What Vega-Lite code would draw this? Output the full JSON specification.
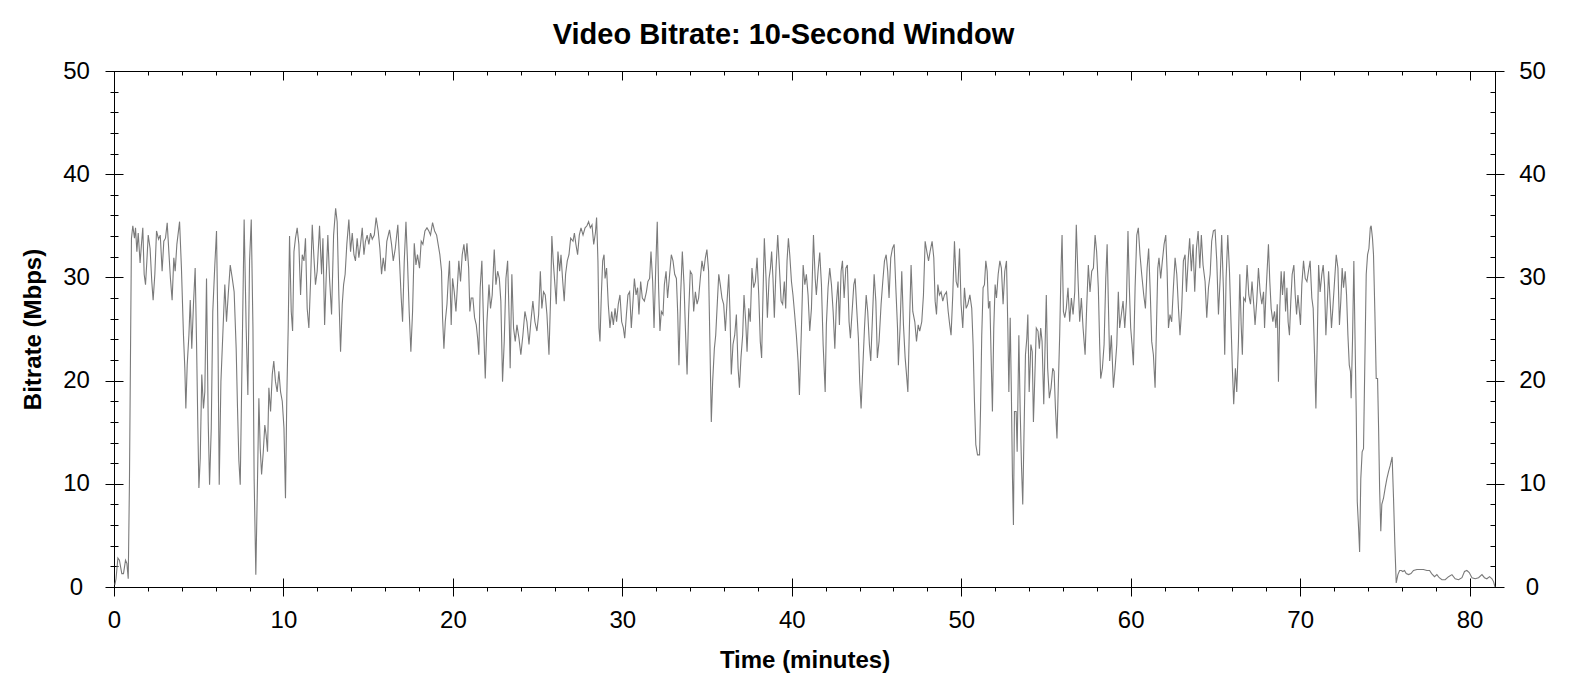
{
  "$schema": "https://vega.github.io/schema/vega-lite/v6.json",
  "autosize": "none",
  "width": 1381,
  "height": 516,
  "padding": {"left": 114, "top": 71, "right": 75, "bottom": 108},
  "background": "white",
  "title": {
    "text": "Video Bitrate: 10-Second Window",
    "font": "Liberation Sans",
    "fontSize": 29,
    "fontWeight": "bold",
    "color": "black",
    "anchor": "middle",
    "frame": "bounds",
    "offset": 9
  },
  "config": {
    "view": {"stroke": "black", "strokeWidth": 1},
    "axis": {
      "grid": false,
      "domain": false,
      "tickColor": "black",
      "tickWidth": 1,
      "labelFont": "Liberation Sans",
      "labelFontSize": 24,
      "labelColor": "black",
      "labelFlush": false,
      "labelOverlap": false,
      "titleFont": "Liberation Sans",
      "titleFontSize": 24,
      "titleFontWeight": "bold",
      "titleColor": "black"
    }
  },
  "data": {
    "values": [
      {"time": 0.05, "mbps": 0.2}, {"time": 0.12, "mbps": 0.8}, {"time": 0.23, "mbps": 2.8}, {"time": 0.32, "mbps": 2.6},
      {"time": 0.46, "mbps": 1.3}, {"time": 0.56, "mbps": 1.3}, {"time": 0.68, "mbps": 2.6}, {"time": 0.76, "mbps": 2.3},
      {"time": 0.84, "mbps": 0.8}, {"time": 0.91, "mbps": 9.9}, {"time": 0.97, "mbps": 21.9}, {"time": 1.03, "mbps": 33.8},
      {"time": 1.11, "mbps": 35.0}, {"time": 1.21, "mbps": 33.8}, {"time": 1.27, "mbps": 34.8}, {"time": 1.35, "mbps": 32.5},
      {"time": 1.43, "mbps": 34.3}, {"time": 1.54, "mbps": 31.4}, {"time": 1.62, "mbps": 33.2}, {"time": 1.70, "mbps": 34.8},
      {"time": 1.78, "mbps": 30.3}, {"time": 1.86, "mbps": 29.3}, {"time": 1.94, "mbps": 31.6}, {"time": 2.02, "mbps": 34.1},
      {"time": 2.13, "mbps": 32.8}, {"time": 2.23, "mbps": 29.6}, {"time": 2.31, "mbps": 27.8}, {"time": 2.41, "mbps": 30.3},
      {"time": 2.51, "mbps": 34.5}, {"time": 2.63, "mbps": 33.7}, {"time": 2.73, "mbps": 34.1}, {"time": 2.84, "mbps": 30.6},
      {"time": 2.94, "mbps": 33.5}, {"time": 3.04, "mbps": 33.8}, {"time": 3.14, "mbps": 35.3}, {"time": 3.24, "mbps": 32.4},
      {"time": 3.33, "mbps": 29.9}, {"time": 3.43, "mbps": 27.8}, {"time": 3.53, "mbps": 31.9}, {"time": 3.61, "mbps": 30.6},
      {"time": 3.71, "mbps": 33.2}, {"time": 3.87, "mbps": 35.4}, {"time": 3.98, "mbps": 30.9}, {"time": 4.10, "mbps": 24.4},
      {"time": 4.18, "mbps": 21.2}, {"time": 4.24, "mbps": 17.3}, {"time": 4.32, "mbps": 21.5}, {"time": 4.42, "mbps": 24.4},
      {"time": 4.50, "mbps": 27.8}, {"time": 4.59, "mbps": 23.1}, {"time": 4.69, "mbps": 27.4}, {"time": 4.79, "mbps": 30.9},
      {"time": 4.87, "mbps": 23.8}, {"time": 4.95, "mbps": 15.4}, {"time": 5.01, "mbps": 9.6}, {"time": 5.09, "mbps": 12.5},
      {"time": 5.18, "mbps": 20.6}, {"time": 5.28, "mbps": 17.3}, {"time": 5.36, "mbps": 18.9}, {"time": 5.46, "mbps": 29.9},
      {"time": 5.56, "mbps": 16.0}, {"time": 5.64, "mbps": 9.9}, {"time": 5.74, "mbps": 15.4}, {"time": 5.83, "mbps": 26.7},
      {"time": 5.95, "mbps": 31.2}, {"time": 6.05, "mbps": 34.5}, {"time": 6.13, "mbps": 25.1}, {"time": 6.21, "mbps": 9.9},
      {"time": 6.31, "mbps": 19.9}, {"time": 6.42, "mbps": 24.4}, {"time": 6.54, "mbps": 29.3}, {"time": 6.64, "mbps": 25.7},
      {"time": 6.74, "mbps": 28.3}, {"time": 6.86, "mbps": 31.2}, {"time": 6.98, "mbps": 29.9}, {"time": 7.09, "mbps": 28.6},
      {"time": 7.21, "mbps": 23.1}, {"time": 7.29, "mbps": 17.3}, {"time": 7.37, "mbps": 12.2}, {"time": 7.45, "mbps": 9.9},
      {"time": 7.55, "mbps": 21.2}, {"time": 7.68, "mbps": 35.6}, {"time": 7.80, "mbps": 25.1}, {"time": 7.90, "mbps": 18.6},
      {"time": 8.00, "mbps": 31.6}, {"time": 8.10, "mbps": 35.6}, {"time": 8.20, "mbps": 25.1}, {"time": 8.27, "mbps": 10.5},
      {"time": 8.37, "mbps": 1.2}, {"time": 8.47, "mbps": 10.5}, {"time": 8.55, "mbps": 18.3}, {"time": 8.63, "mbps": 13.4},
      {"time": 8.71, "mbps": 10.9}, {"time": 8.81, "mbps": 13.1}, {"time": 8.90, "mbps": 15.7}, {"time": 8.98, "mbps": 14.7},
      {"time": 9.06, "mbps": 13.1}, {"time": 9.14, "mbps": 19.3}, {"time": 9.24, "mbps": 17.0}, {"time": 9.34, "mbps": 20.6},
      {"time": 9.43, "mbps": 21.9}, {"time": 9.53, "mbps": 19.9}, {"time": 9.63, "mbps": 18.9}, {"time": 9.73, "mbps": 20.9},
      {"time": 9.83, "mbps": 18.9}, {"time": 9.93, "mbps": 18.0}, {"time": 10.03, "mbps": 15.4}, {"time": 10.12, "mbps": 8.6},
      {"time": 10.20, "mbps": 18.6}, {"time": 10.28, "mbps": 25.1}, {"time": 10.36, "mbps": 34.0}, {"time": 10.46, "mbps": 26.7},
      {"time": 10.54, "mbps": 24.8}, {"time": 10.62, "mbps": 32.5}, {"time": 10.71, "mbps": 33.8}, {"time": 10.81, "mbps": 34.8},
      {"time": 10.91, "mbps": 33.2}, {"time": 11.01, "mbps": 28.3}, {"time": 11.11, "mbps": 32.2}, {"time": 11.21, "mbps": 31.6},
      {"time": 11.30, "mbps": 33.8}, {"time": 11.40, "mbps": 27.0}, {"time": 11.50, "mbps": 25.1}, {"time": 11.60, "mbps": 29.6},
      {"time": 11.70, "mbps": 35.1}, {"time": 11.80, "mbps": 31.9}, {"time": 11.89, "mbps": 29.3}, {"time": 11.99, "mbps": 30.6},
      {"time": 12.13, "mbps": 35.0}, {"time": 12.25, "mbps": 30.3}, {"time": 12.33, "mbps": 33.8}, {"time": 12.43, "mbps": 25.4},
      {"time": 12.52, "mbps": 29.9}, {"time": 12.62, "mbps": 34.1}, {"time": 12.72, "mbps": 29.9}, {"time": 12.84, "mbps": 26.4},
      {"time": 12.96, "mbps": 34.1}, {"time": 13.08, "mbps": 36.7}, {"time": 13.17, "mbps": 35.4}, {"time": 13.27, "mbps": 28.3},
      {"time": 13.37, "mbps": 22.8}, {"time": 13.47, "mbps": 27.4}, {"time": 13.55, "mbps": 29.3}, {"time": 13.64, "mbps": 30.3},
      {"time": 13.74, "mbps": 33.2}, {"time": 13.86, "mbps": 35.6}, {"time": 13.96, "mbps": 32.5}, {"time": 14.06, "mbps": 34.3},
      {"time": 14.16, "mbps": 32.2}, {"time": 14.25, "mbps": 31.6}, {"time": 14.35, "mbps": 33.8}, {"time": 14.45, "mbps": 31.9},
      {"time": 14.55, "mbps": 33.2}, {"time": 14.65, "mbps": 34.8}, {"time": 14.75, "mbps": 32.2}, {"time": 14.84, "mbps": 33.5},
      {"time": 14.94, "mbps": 34.1}, {"time": 15.04, "mbps": 33.2}, {"time": 15.14, "mbps": 34.3}, {"time": 15.24, "mbps": 33.7},
      {"time": 15.36, "mbps": 34.1}, {"time": 15.47, "mbps": 35.8}, {"time": 15.59, "mbps": 34.5}, {"time": 15.69, "mbps": 32.8},
      {"time": 15.79, "mbps": 30.3}, {"time": 15.89, "mbps": 31.9}, {"time": 15.99, "mbps": 30.6}, {"time": 16.10, "mbps": 33.5},
      {"time": 16.26, "mbps": 34.6}, {"time": 16.38, "mbps": 33.2}, {"time": 16.48, "mbps": 31.6}, {"time": 16.60, "mbps": 32.8},
      {"time": 16.75, "mbps": 35.1}, {"time": 16.85, "mbps": 31.6}, {"time": 16.95, "mbps": 28.0}, {"time": 17.03, "mbps": 25.7},
      {"time": 17.13, "mbps": 31.6}, {"time": 17.23, "mbps": 35.4}, {"time": 17.32, "mbps": 31.6}, {"time": 17.42, "mbps": 26.7},
      {"time": 17.52, "mbps": 22.8}, {"time": 17.62, "mbps": 26.7}, {"time": 17.72, "mbps": 33.3}, {"time": 17.82, "mbps": 31.2},
      {"time": 17.91, "mbps": 32.2}, {"time": 18.03, "mbps": 30.9}, {"time": 18.13, "mbps": 33.5}, {"time": 18.23, "mbps": 33.2},
      {"time": 18.35, "mbps": 34.5}, {"time": 18.47, "mbps": 34.8}, {"time": 18.58, "mbps": 34.5}, {"time": 18.68, "mbps": 34.1},
      {"time": 18.80, "mbps": 35.3}, {"time": 18.92, "mbps": 34.5}, {"time": 19.04, "mbps": 34.1}, {"time": 19.13, "mbps": 33.2},
      {"time": 19.23, "mbps": 32.2}, {"time": 19.33, "mbps": 30.6}, {"time": 19.39, "mbps": 26.1}, {"time": 19.47, "mbps": 23.1},
      {"time": 19.55, "mbps": 25.7}, {"time": 19.65, "mbps": 27.4}, {"time": 19.72, "mbps": 29.6}, {"time": 19.80, "mbps": 31.6},
      {"time": 19.90, "mbps": 25.4}, {"time": 19.98, "mbps": 29.9}, {"time": 20.08, "mbps": 28.6}, {"time": 20.18, "mbps": 26.7},
      {"time": 20.26, "mbps": 29.0}, {"time": 20.35, "mbps": 31.6}, {"time": 20.45, "mbps": 29.6}, {"time": 20.55, "mbps": 32.2},
      {"time": 20.65, "mbps": 33.2}, {"time": 20.75, "mbps": 31.6}, {"time": 20.83, "mbps": 33.3}, {"time": 20.93, "mbps": 30.9},
      {"time": 21.00, "mbps": 26.7}, {"time": 21.08, "mbps": 28.0}, {"time": 21.18, "mbps": 28.0}, {"time": 21.28, "mbps": 26.1},
      {"time": 21.38, "mbps": 25.4}, {"time": 21.46, "mbps": 24.1}, {"time": 21.53, "mbps": 22.5}, {"time": 21.61, "mbps": 29.0},
      {"time": 21.71, "mbps": 31.6}, {"time": 21.81, "mbps": 25.4}, {"time": 21.91, "mbps": 20.2}, {"time": 22.01, "mbps": 25.7},
      {"time": 22.13, "mbps": 29.3}, {"time": 22.22, "mbps": 27.0}, {"time": 22.32, "mbps": 28.3}, {"time": 22.44, "mbps": 32.7},
      {"time": 22.54, "mbps": 29.3}, {"time": 22.64, "mbps": 30.6}, {"time": 22.74, "mbps": 29.9}, {"time": 22.83, "mbps": 27.7},
      {"time": 22.93, "mbps": 19.9}, {"time": 23.03, "mbps": 23.8}, {"time": 23.13, "mbps": 29.9}, {"time": 23.23, "mbps": 31.6},
      {"time": 23.33, "mbps": 25.4}, {"time": 23.38, "mbps": 21.2}, {"time": 23.48, "mbps": 30.3}, {"time": 23.58, "mbps": 25.1},
      {"time": 23.68, "mbps": 23.8}, {"time": 23.78, "mbps": 25.4}, {"time": 23.90, "mbps": 24.1}, {"time": 24.01, "mbps": 22.5},
      {"time": 24.13, "mbps": 24.4}, {"time": 24.25, "mbps": 26.7}, {"time": 24.37, "mbps": 25.7}, {"time": 24.49, "mbps": 23.5},
      {"time": 24.60, "mbps": 25.7}, {"time": 24.72, "mbps": 27.7}, {"time": 24.84, "mbps": 25.7}, {"time": 24.96, "mbps": 24.8},
      {"time": 25.06, "mbps": 26.4}, {"time": 25.16, "mbps": 30.6}, {"time": 25.25, "mbps": 27.0}, {"time": 25.35, "mbps": 28.6},
      {"time": 25.45, "mbps": 28.3}, {"time": 25.55, "mbps": 26.4}, {"time": 25.67, "mbps": 22.5}, {"time": 25.77, "mbps": 28.3},
      {"time": 25.84, "mbps": 34.0}, {"time": 25.92, "mbps": 31.6}, {"time": 26.02, "mbps": 29.3}, {"time": 26.10, "mbps": 27.4},
      {"time": 26.20, "mbps": 32.5}, {"time": 26.30, "mbps": 30.6}, {"time": 26.38, "mbps": 32.2}, {"time": 26.47, "mbps": 29.9},
      {"time": 26.57, "mbps": 27.7}, {"time": 26.65, "mbps": 30.3}, {"time": 26.75, "mbps": 31.6}, {"time": 26.85, "mbps": 32.2},
      {"time": 26.95, "mbps": 33.8}, {"time": 27.09, "mbps": 33.5}, {"time": 27.17, "mbps": 34.3}, {"time": 27.26, "mbps": 33.2},
      {"time": 27.36, "mbps": 32.2}, {"time": 27.46, "mbps": 34.1}, {"time": 27.56, "mbps": 34.8}, {"time": 27.68, "mbps": 34.1},
      {"time": 27.80, "mbps": 34.8}, {"time": 27.91, "mbps": 35.0}, {"time": 28.01, "mbps": 35.4}, {"time": 28.11, "mbps": 34.8},
      {"time": 28.21, "mbps": 35.1}, {"time": 28.31, "mbps": 33.2}, {"time": 28.41, "mbps": 34.3}, {"time": 28.48, "mbps": 35.8},
      {"time": 28.56, "mbps": 31.6}, {"time": 28.62, "mbps": 25.1}, {"time": 28.68, "mbps": 23.8}, {"time": 28.76, "mbps": 28.3},
      {"time": 28.84, "mbps": 31.6}, {"time": 28.92, "mbps": 32.2}, {"time": 28.98, "mbps": 29.9}, {"time": 29.07, "mbps": 30.9},
      {"time": 29.17, "mbps": 27.4}, {"time": 29.27, "mbps": 25.1}, {"time": 29.37, "mbps": 26.7}, {"time": 29.47, "mbps": 25.4},
      {"time": 29.57, "mbps": 27.0}, {"time": 29.66, "mbps": 25.7}, {"time": 29.76, "mbps": 27.4}, {"time": 29.86, "mbps": 28.3},
      {"time": 29.96, "mbps": 25.7}, {"time": 30.06, "mbps": 25.1}, {"time": 30.14, "mbps": 24.1}, {"time": 30.24, "mbps": 26.4},
      {"time": 30.33, "mbps": 28.3}, {"time": 30.43, "mbps": 28.6}, {"time": 30.53, "mbps": 25.1}, {"time": 30.63, "mbps": 27.7},
      {"time": 30.71, "mbps": 29.9}, {"time": 30.81, "mbps": 28.3}, {"time": 30.90, "mbps": 29.0}, {"time": 30.98, "mbps": 26.4},
      {"time": 31.08, "mbps": 29.6}, {"time": 31.18, "mbps": 28.0}, {"time": 31.30, "mbps": 27.7}, {"time": 31.42, "mbps": 28.6},
      {"time": 31.51, "mbps": 29.6}, {"time": 31.61, "mbps": 29.9}, {"time": 31.69, "mbps": 32.5}, {"time": 31.79, "mbps": 29.6},
      {"time": 31.87, "mbps": 25.1}, {"time": 31.97, "mbps": 30.9}, {"time": 32.06, "mbps": 35.4}, {"time": 32.14, "mbps": 29.0},
      {"time": 32.22, "mbps": 24.8}, {"time": 32.30, "mbps": 26.7}, {"time": 32.40, "mbps": 26.4}, {"time": 32.48, "mbps": 29.3},
      {"time": 32.58, "mbps": 30.6}, {"time": 32.67, "mbps": 28.0}, {"time": 32.77, "mbps": 29.9}, {"time": 32.89, "mbps": 32.2},
      {"time": 32.99, "mbps": 31.6}, {"time": 33.09, "mbps": 30.3}, {"time": 33.19, "mbps": 29.9}, {"time": 33.27, "mbps": 26.4},
      {"time": 33.34, "mbps": 21.5}, {"time": 33.44, "mbps": 28.3}, {"time": 33.54, "mbps": 32.5}, {"time": 33.64, "mbps": 29.3},
      {"time": 33.72, "mbps": 25.1}, {"time": 33.82, "mbps": 20.6}, {"time": 33.91, "mbps": 26.4}, {"time": 34.01, "mbps": 30.6},
      {"time": 34.11, "mbps": 30.3}, {"time": 34.21, "mbps": 26.7}, {"time": 34.31, "mbps": 28.6}, {"time": 34.41, "mbps": 27.4},
      {"time": 34.50, "mbps": 28.0}, {"time": 34.60, "mbps": 29.9}, {"time": 34.70, "mbps": 31.6}, {"time": 34.80, "mbps": 30.6},
      {"time": 34.90, "mbps": 31.9}, {"time": 34.99, "mbps": 32.7}, {"time": 35.09, "mbps": 30.6}, {"time": 35.17, "mbps": 23.5},
      {"time": 35.25, "mbps": 16.0}, {"time": 35.33, "mbps": 19.9}, {"time": 35.43, "mbps": 23.1}, {"time": 35.51, "mbps": 24.4},
      {"time": 35.61, "mbps": 27.7}, {"time": 35.69, "mbps": 30.3}, {"time": 35.78, "mbps": 29.3}, {"time": 35.88, "mbps": 28.0},
      {"time": 35.98, "mbps": 27.4}, {"time": 36.08, "mbps": 24.8}, {"time": 36.18, "mbps": 27.7}, {"time": 36.28, "mbps": 30.3},
      {"time": 36.35, "mbps": 26.7}, {"time": 36.43, "mbps": 20.6}, {"time": 36.53, "mbps": 23.5}, {"time": 36.63, "mbps": 24.4},
      {"time": 36.73, "mbps": 26.4}, {"time": 36.83, "mbps": 21.2}, {"time": 36.91, "mbps": 19.3}, {"time": 37.00, "mbps": 22.2},
      {"time": 37.10, "mbps": 24.4}, {"time": 37.18, "mbps": 28.3}, {"time": 37.28, "mbps": 25.7}, {"time": 37.36, "mbps": 22.8},
      {"time": 37.46, "mbps": 27.0}, {"time": 37.55, "mbps": 25.7}, {"time": 37.65, "mbps": 30.9}, {"time": 37.75, "mbps": 29.0},
      {"time": 37.85, "mbps": 29.6}, {"time": 37.95, "mbps": 31.9}, {"time": 38.05, "mbps": 28.3}, {"time": 38.14, "mbps": 23.8},
      {"time": 38.22, "mbps": 22.2}, {"time": 38.30, "mbps": 28.3}, {"time": 38.38, "mbps": 33.8}, {"time": 38.48, "mbps": 29.9},
      {"time": 38.56, "mbps": 26.1}, {"time": 38.66, "mbps": 29.9}, {"time": 38.74, "mbps": 30.9}, {"time": 38.81, "mbps": 32.5},
      {"time": 38.89, "mbps": 29.9}, {"time": 38.97, "mbps": 26.1}, {"time": 39.07, "mbps": 30.9}, {"time": 39.17, "mbps": 34.1},
      {"time": 39.27, "mbps": 30.9}, {"time": 39.37, "mbps": 27.7}, {"time": 39.46, "mbps": 27.4}, {"time": 39.56, "mbps": 29.6},
      {"time": 39.64, "mbps": 27.0}, {"time": 39.72, "mbps": 31.6}, {"time": 39.80, "mbps": 33.8}, {"time": 39.88, "mbps": 32.2},
      {"time": 39.98, "mbps": 29.6}, {"time": 40.07, "mbps": 28.3}, {"time": 40.17, "mbps": 26.4}, {"time": 40.27, "mbps": 24.4},
      {"time": 40.37, "mbps": 21.9}, {"time": 40.45, "mbps": 18.6}, {"time": 40.57, "mbps": 25.1}, {"time": 40.67, "mbps": 31.2},
      {"time": 40.77, "mbps": 29.3}, {"time": 40.86, "mbps": 30.3}, {"time": 40.96, "mbps": 28.3}, {"time": 41.06, "mbps": 24.8},
      {"time": 41.16, "mbps": 27.0}, {"time": 41.28, "mbps": 34.1}, {"time": 41.38, "mbps": 29.9}, {"time": 41.45, "mbps": 28.3},
      {"time": 41.55, "mbps": 30.6}, {"time": 41.65, "mbps": 32.4}, {"time": 41.75, "mbps": 29.3}, {"time": 41.85, "mbps": 23.5},
      {"time": 41.97, "mbps": 18.9}, {"time": 42.04, "mbps": 25.4}, {"time": 42.14, "mbps": 29.0}, {"time": 42.24, "mbps": 30.9},
      {"time": 42.34, "mbps": 29.3}, {"time": 42.44, "mbps": 26.7}, {"time": 42.54, "mbps": 23.1}, {"time": 42.63, "mbps": 27.4},
      {"time": 42.73, "mbps": 29.6}, {"time": 42.81, "mbps": 25.4}, {"time": 42.91, "mbps": 30.6}, {"time": 42.99, "mbps": 31.6},
      {"time": 43.09, "mbps": 28.0}, {"time": 43.19, "mbps": 30.9}, {"time": 43.28, "mbps": 31.2}, {"time": 43.38, "mbps": 25.7},
      {"time": 43.46, "mbps": 24.1}, {"time": 43.56, "mbps": 26.7}, {"time": 43.66, "mbps": 29.3}, {"time": 43.74, "mbps": 29.9},
      {"time": 43.83, "mbps": 27.0}, {"time": 43.93, "mbps": 24.1}, {"time": 44.01, "mbps": 19.9}, {"time": 44.09, "mbps": 17.3},
      {"time": 44.19, "mbps": 21.2}, {"time": 44.29, "mbps": 25.1}, {"time": 44.39, "mbps": 28.3}, {"time": 44.48, "mbps": 26.7},
      {"time": 44.58, "mbps": 23.5}, {"time": 44.66, "mbps": 21.9}, {"time": 44.76, "mbps": 26.1}, {"time": 44.86, "mbps": 30.3},
      {"time": 44.96, "mbps": 27.7}, {"time": 45.05, "mbps": 22.2}, {"time": 45.15, "mbps": 23.8}, {"time": 45.27, "mbps": 27.4},
      {"time": 45.37, "mbps": 29.6}, {"time": 45.47, "mbps": 31.6}, {"time": 45.57, "mbps": 32.2}, {"time": 45.66, "mbps": 30.6},
      {"time": 45.74, "mbps": 28.0}, {"time": 45.84, "mbps": 31.9}, {"time": 45.94, "mbps": 32.8}, {"time": 46.04, "mbps": 33.2},
      {"time": 46.14, "mbps": 29.0}, {"time": 46.24, "mbps": 25.1}, {"time": 46.29, "mbps": 21.5}, {"time": 46.39, "mbps": 25.1},
      {"time": 46.49, "mbps": 30.6}, {"time": 46.59, "mbps": 25.4}, {"time": 46.69, "mbps": 22.2}, {"time": 46.77, "mbps": 20.6},
      {"time": 46.85, "mbps": 18.9}, {"time": 46.94, "mbps": 25.1}, {"time": 47.04, "mbps": 31.2}, {"time": 47.14, "mbps": 26.7},
      {"time": 47.26, "mbps": 25.7}, {"time": 47.36, "mbps": 23.8}, {"time": 47.46, "mbps": 25.4}, {"time": 47.55, "mbps": 24.8},
      {"time": 47.67, "mbps": 25.7}, {"time": 47.77, "mbps": 28.3}, {"time": 47.87, "mbps": 33.5}, {"time": 47.97, "mbps": 32.5},
      {"time": 48.07, "mbps": 31.6}, {"time": 48.16, "mbps": 32.5}, {"time": 48.28, "mbps": 33.5}, {"time": 48.38, "mbps": 31.9},
      {"time": 48.46, "mbps": 27.7}, {"time": 48.54, "mbps": 26.4}, {"time": 48.62, "mbps": 29.3}, {"time": 48.71, "mbps": 28.3},
      {"time": 48.81, "mbps": 28.6}, {"time": 48.91, "mbps": 27.7}, {"time": 49.01, "mbps": 28.3}, {"time": 49.13, "mbps": 28.6},
      {"time": 49.23, "mbps": 26.7}, {"time": 49.32, "mbps": 25.4}, {"time": 49.40, "mbps": 24.4}, {"time": 49.50, "mbps": 28.3},
      {"time": 49.60, "mbps": 33.5}, {"time": 49.70, "mbps": 29.6}, {"time": 49.80, "mbps": 29.0}, {"time": 49.90, "mbps": 32.8},
      {"time": 49.99, "mbps": 27.4}, {"time": 50.09, "mbps": 25.1}, {"time": 50.19, "mbps": 29.0}, {"time": 50.29, "mbps": 27.0},
      {"time": 50.39, "mbps": 27.4}, {"time": 50.51, "mbps": 28.3}, {"time": 50.62, "mbps": 27.0}, {"time": 50.70, "mbps": 23.5},
      {"time": 50.78, "mbps": 18.0}, {"time": 50.86, "mbps": 13.8}, {"time": 50.96, "mbps": 12.8}, {"time": 51.08, "mbps": 12.8},
      {"time": 51.14, "mbps": 17.3}, {"time": 51.21, "mbps": 24.4}, {"time": 51.29, "mbps": 29.0}, {"time": 51.37, "mbps": 29.3},
      {"time": 51.45, "mbps": 31.6}, {"time": 51.53, "mbps": 30.6}, {"time": 51.61, "mbps": 27.0}, {"time": 51.69, "mbps": 27.7},
      {"time": 51.76, "mbps": 22.5}, {"time": 51.84, "mbps": 17.0}, {"time": 51.92, "mbps": 25.1}, {"time": 52.00, "mbps": 29.3},
      {"time": 52.08, "mbps": 28.0}, {"time": 52.18, "mbps": 30.3}, {"time": 52.28, "mbps": 31.6}, {"time": 52.37, "mbps": 30.9},
      {"time": 52.47, "mbps": 27.4}, {"time": 52.57, "mbps": 30.6}, {"time": 52.67, "mbps": 31.6}, {"time": 52.75, "mbps": 25.1},
      {"time": 52.81, "mbps": 18.9}, {"time": 52.89, "mbps": 26.1}, {"time": 52.96, "mbps": 18.6}, {"time": 53.02, "mbps": 10.9},
      {"time": 53.08, "mbps": 6.0}, {"time": 53.14, "mbps": 17.0}, {"time": 53.24, "mbps": 17.0}, {"time": 53.30, "mbps": 13.1},
      {"time": 53.40, "mbps": 24.4}, {"time": 53.48, "mbps": 17.0}, {"time": 53.56, "mbps": 11.5}, {"time": 53.63, "mbps": 8.0},
      {"time": 53.71, "mbps": 15.4}, {"time": 53.79, "mbps": 22.5}, {"time": 53.87, "mbps": 24.1}, {"time": 53.93, "mbps": 26.4},
      {"time": 54.01, "mbps": 18.9}, {"time": 54.11, "mbps": 23.5}, {"time": 54.19, "mbps": 22.8}, {"time": 54.26, "mbps": 16.0},
      {"time": 54.34, "mbps": 20.2}, {"time": 54.43, "mbps": 25.1}, {"time": 54.53, "mbps": 24.8}, {"time": 54.61, "mbps": 23.1},
      {"time": 54.69, "mbps": 25.1}, {"time": 54.77, "mbps": 23.8}, {"time": 54.87, "mbps": 17.7}, {"time": 54.95, "mbps": 23.5},
      {"time": 55.02, "mbps": 28.3}, {"time": 55.10, "mbps": 21.2}, {"time": 55.20, "mbps": 18.3}, {"time": 55.30, "mbps": 19.3},
      {"time": 55.40, "mbps": 21.2}, {"time": 55.48, "mbps": 20.9}, {"time": 55.56, "mbps": 17.3}, {"time": 55.65, "mbps": 14.4},
      {"time": 55.73, "mbps": 19.6}, {"time": 55.81, "mbps": 24.4}, {"time": 55.89, "mbps": 30.9}, {"time": 55.95, "mbps": 34.1},
      {"time": 56.03, "mbps": 26.7}, {"time": 56.11, "mbps": 26.1}, {"time": 56.20, "mbps": 27.0}, {"time": 56.30, "mbps": 29.0},
      {"time": 56.40, "mbps": 25.7}, {"time": 56.50, "mbps": 28.0}, {"time": 56.60, "mbps": 26.4}, {"time": 56.70, "mbps": 28.6},
      {"time": 56.79, "mbps": 35.1}, {"time": 56.89, "mbps": 29.9}, {"time": 56.99, "mbps": 25.7}, {"time": 57.09, "mbps": 28.0},
      {"time": 57.19, "mbps": 25.1}, {"time": 57.31, "mbps": 22.5}, {"time": 57.40, "mbps": 27.0}, {"time": 57.50, "mbps": 31.2},
      {"time": 57.60, "mbps": 28.6}, {"time": 57.70, "mbps": 30.6}, {"time": 57.80, "mbps": 30.9}, {"time": 57.90, "mbps": 34.1},
      {"time": 57.99, "mbps": 32.5}, {"time": 58.09, "mbps": 29.0}, {"time": 58.17, "mbps": 23.5}, {"time": 58.23, "mbps": 20.2},
      {"time": 58.33, "mbps": 21.2}, {"time": 58.43, "mbps": 23.5}, {"time": 58.53, "mbps": 29.9}, {"time": 58.61, "mbps": 33.2},
      {"time": 58.68, "mbps": 27.7}, {"time": 58.76, "mbps": 21.9}, {"time": 58.86, "mbps": 24.4}, {"time": 58.98, "mbps": 19.3},
      {"time": 59.08, "mbps": 21.2}, {"time": 59.18, "mbps": 23.5}, {"time": 59.27, "mbps": 28.6}, {"time": 59.35, "mbps": 25.1},
      {"time": 59.45, "mbps": 26.4}, {"time": 59.55, "mbps": 27.7}, {"time": 59.65, "mbps": 25.1}, {"time": 59.75, "mbps": 27.7},
      {"time": 59.84, "mbps": 34.5}, {"time": 59.92, "mbps": 29.0}, {"time": 60.00, "mbps": 25.1}, {"time": 60.08, "mbps": 23.5},
      {"time": 60.16, "mbps": 21.5}, {"time": 60.26, "mbps": 29.0}, {"time": 60.36, "mbps": 34.1}, {"time": 60.45, "mbps": 34.8},
      {"time": 60.55, "mbps": 32.2}, {"time": 60.65, "mbps": 30.3}, {"time": 60.77, "mbps": 28.3}, {"time": 60.87, "mbps": 27.0},
      {"time": 60.97, "mbps": 30.9}, {"time": 61.06, "mbps": 32.8}, {"time": 61.16, "mbps": 28.3}, {"time": 61.24, "mbps": 23.8},
      {"time": 61.34, "mbps": 22.5}, {"time": 61.44, "mbps": 19.3}, {"time": 61.52, "mbps": 25.1}, {"time": 61.60, "mbps": 30.9},
      {"time": 61.67, "mbps": 31.9}, {"time": 61.77, "mbps": 29.9}, {"time": 61.87, "mbps": 31.6}, {"time": 61.97, "mbps": 33.2},
      {"time": 62.07, "mbps": 34.1}, {"time": 62.15, "mbps": 30.6}, {"time": 62.23, "mbps": 25.1}, {"time": 62.32, "mbps": 26.4},
      {"time": 62.42, "mbps": 25.7}, {"time": 62.52, "mbps": 29.0}, {"time": 62.62, "mbps": 31.9}, {"time": 62.72, "mbps": 30.3},
      {"time": 62.82, "mbps": 27.0}, {"time": 62.91, "mbps": 24.4}, {"time": 63.01, "mbps": 27.0}, {"time": 63.11, "mbps": 31.6},
      {"time": 63.21, "mbps": 32.2}, {"time": 63.29, "mbps": 28.6}, {"time": 63.39, "mbps": 31.6}, {"time": 63.48, "mbps": 33.8},
      {"time": 63.58, "mbps": 30.6}, {"time": 63.68, "mbps": 33.2}, {"time": 63.78, "mbps": 28.6}, {"time": 63.88, "mbps": 32.8},
      {"time": 63.98, "mbps": 34.5}, {"time": 64.08, "mbps": 30.9}, {"time": 64.17, "mbps": 34.1}, {"time": 64.27, "mbps": 31.2},
      {"time": 64.39, "mbps": 29.6}, {"time": 64.49, "mbps": 26.1}, {"time": 64.59, "mbps": 29.0}, {"time": 64.69, "mbps": 30.3},
      {"time": 64.78, "mbps": 33.5}, {"time": 64.88, "mbps": 34.5}, {"time": 64.98, "mbps": 34.6}, {"time": 65.08, "mbps": 31.6},
      {"time": 65.18, "mbps": 26.4}, {"time": 65.28, "mbps": 29.9}, {"time": 65.37, "mbps": 34.1}, {"time": 65.47, "mbps": 29.0},
      {"time": 65.55, "mbps": 22.5}, {"time": 65.63, "mbps": 29.9}, {"time": 65.73, "mbps": 34.1}, {"time": 65.83, "mbps": 30.6},
      {"time": 65.93, "mbps": 25.1}, {"time": 66.00, "mbps": 21.2}, {"time": 66.08, "mbps": 17.7}, {"time": 66.18, "mbps": 21.2},
      {"time": 66.26, "mbps": 18.9}, {"time": 66.36, "mbps": 23.8}, {"time": 66.44, "mbps": 30.3}, {"time": 66.52, "mbps": 25.4},
      {"time": 66.59, "mbps": 22.5}, {"time": 66.67, "mbps": 28.0}, {"time": 66.77, "mbps": 27.7}, {"time": 66.87, "mbps": 31.2},
      {"time": 66.97, "mbps": 28.3}, {"time": 67.07, "mbps": 27.4}, {"time": 67.16, "mbps": 29.6}, {"time": 67.26, "mbps": 27.4},
      {"time": 67.34, "mbps": 25.4}, {"time": 67.44, "mbps": 27.7}, {"time": 67.54, "mbps": 30.9}, {"time": 67.64, "mbps": 28.6},
      {"time": 67.74, "mbps": 27.4}, {"time": 67.84, "mbps": 28.6}, {"time": 67.90, "mbps": 25.1}, {"time": 67.98, "mbps": 28.3},
      {"time": 68.05, "mbps": 30.6}, {"time": 68.13, "mbps": 33.2}, {"time": 68.21, "mbps": 29.6}, {"time": 68.29, "mbps": 27.0},
      {"time": 68.39, "mbps": 25.7}, {"time": 68.49, "mbps": 26.7}, {"time": 68.57, "mbps": 25.1}, {"time": 68.65, "mbps": 27.4},
      {"time": 68.72, "mbps": 19.9}, {"time": 68.80, "mbps": 27.0}, {"time": 68.88, "mbps": 30.6}, {"time": 68.96, "mbps": 28.3},
      {"time": 69.06, "mbps": 30.6}, {"time": 69.14, "mbps": 26.7}, {"time": 69.22, "mbps": 29.0}, {"time": 69.29, "mbps": 25.7},
      {"time": 69.37, "mbps": 24.4}, {"time": 69.45, "mbps": 27.7}, {"time": 69.53, "mbps": 30.3}, {"time": 69.63, "mbps": 31.2},
      {"time": 69.71, "mbps": 28.3}, {"time": 69.79, "mbps": 26.4}, {"time": 69.87, "mbps": 28.3}, {"time": 69.94, "mbps": 27.0},
      {"time": 70.02, "mbps": 25.4}, {"time": 70.10, "mbps": 29.3}, {"time": 70.20, "mbps": 31.6}, {"time": 70.30, "mbps": 29.9},
      {"time": 70.40, "mbps": 29.6}, {"time": 70.49, "mbps": 30.6}, {"time": 70.59, "mbps": 31.6}, {"time": 70.69, "mbps": 28.0},
      {"time": 70.77, "mbps": 27.0}, {"time": 70.85, "mbps": 22.5}, {"time": 70.93, "mbps": 17.3}, {"time": 71.01, "mbps": 23.8},
      {"time": 71.09, "mbps": 31.2}, {"time": 71.18, "mbps": 28.6}, {"time": 71.28, "mbps": 30.3}, {"time": 71.36, "mbps": 31.2},
      {"time": 71.44, "mbps": 29.3}, {"time": 71.52, "mbps": 24.4}, {"time": 71.60, "mbps": 27.4}, {"time": 71.68, "mbps": 30.6},
      {"time": 71.77, "mbps": 27.7}, {"time": 71.85, "mbps": 25.1}, {"time": 71.93, "mbps": 27.0}, {"time": 72.03, "mbps": 29.6},
      {"time": 72.13, "mbps": 32.2}, {"time": 72.23, "mbps": 30.9}, {"time": 72.32, "mbps": 25.4}, {"time": 72.40, "mbps": 27.7},
      {"time": 72.48, "mbps": 30.9}, {"time": 72.56, "mbps": 29.0}, {"time": 72.66, "mbps": 30.6}, {"time": 72.74, "mbps": 28.3},
      {"time": 72.82, "mbps": 24.4}, {"time": 72.90, "mbps": 21.5}, {"time": 72.97, "mbps": 20.9}, {"time": 73.01, "mbps": 18.3},
      {"time": 73.09, "mbps": 23.8}, {"time": 73.17, "mbps": 31.6}, {"time": 73.23, "mbps": 25.1}, {"time": 73.31, "mbps": 17.0},
      {"time": 73.37, "mbps": 8.3}, {"time": 73.45, "mbps": 5.7}, {"time": 73.51, "mbps": 3.4}, {"time": 73.58, "mbps": 10.5},
      {"time": 73.66, "mbps": 13.1}, {"time": 73.74, "mbps": 13.4}, {"time": 73.82, "mbps": 21.9}, {"time": 73.90, "mbps": 30.3},
      {"time": 73.98, "mbps": 32.2}, {"time": 74.06, "mbps": 32.8}, {"time": 74.14, "mbps": 34.8}, {"time": 74.19, "mbps": 35.0},
      {"time": 74.27, "mbps": 33.8}, {"time": 74.33, "mbps": 32.2}, {"time": 74.41, "mbps": 26.7}, {"time": 74.49, "mbps": 20.2},
      {"time": 74.57, "mbps": 20.2}, {"time": 74.63, "mbps": 15.4}, {"time": 74.69, "mbps": 9.6}, {"time": 74.76, "mbps": 5.4},
      {"time": 74.82, "mbps": 8.0}, {"time": 74.92, "mbps": 8.6}, {"time": 75.02, "mbps": 9.6}, {"time": 75.12, "mbps": 10.5},
      {"time": 75.22, "mbps": 11.2}, {"time": 75.32, "mbps": 11.8}, {"time": 75.43, "mbps": 12.6}, {"time": 75.51, "mbps": 8.7},
      {"time": 75.59, "mbps": 4.1}, {"time": 75.67, "mbps": 0.4}, {"time": 75.77, "mbps": 1.2}, {"time": 75.87, "mbps": 1.6},
      {"time": 75.97, "mbps": 1.6}, {"time": 76.06, "mbps": 1.5}, {"time": 76.16, "mbps": 1.6}, {"time": 76.26, "mbps": 1.3},
      {"time": 76.40, "mbps": 1.2}, {"time": 76.54, "mbps": 1.3}, {"time": 76.69, "mbps": 1.6}, {"time": 76.89, "mbps": 1.7},
      {"time": 77.09, "mbps": 1.7}, {"time": 77.28, "mbps": 1.7}, {"time": 77.48, "mbps": 1.6}, {"time": 77.64, "mbps": 1.6},
      {"time": 77.76, "mbps": 1.3}, {"time": 77.93, "mbps": 1.0}, {"time": 78.07, "mbps": 1.2}, {"time": 78.21, "mbps": 0.9},
      {"time": 78.37, "mbps": 0.7}, {"time": 78.56, "mbps": 0.7}, {"time": 78.76, "mbps": 1.0}, {"time": 78.96, "mbps": 1.2},
      {"time": 79.15, "mbps": 0.8}, {"time": 79.35, "mbps": 0.7}, {"time": 79.55, "mbps": 0.9}, {"time": 79.70, "mbps": 1.5},
      {"time": 79.84, "mbps": 1.6}, {"time": 79.98, "mbps": 1.4}, {"time": 80.14, "mbps": 0.9}, {"time": 80.33, "mbps": 0.8},
      {"time": 80.53, "mbps": 0.9}, {"time": 80.73, "mbps": 1.2}, {"time": 80.88, "mbps": 0.9}, {"time": 81.02, "mbps": 0.8},
      {"time": 81.18, "mbps": 1.0}, {"time": 81.32, "mbps": 0.8}, {"time": 81.42, "mbps": 0.5}, {"time": 81.5, "mbps": 0.0}
    ]
  },
  "layer": [
    {
      "mark": {"type": "line", "color": "#7a7a7a", "strokeWidth": 1.1},
      "encoding": {
        "x": {
          "field": "time", "type": "quantitative",
          "scale": {"domain": [0, 81.5], "nice": false, "zero": false},
          "axis": {"orient": "bottom", "values": [0, 10, 20, 30, 40, 50, 60, 70, 80], "tickSize": 18, "offset": -9, "labelPadding": 12, "title": "Time (minutes)", "titlePadding": 16}
        },
        "y": {
          "field": "mbps", "type": "quantitative",
          "scale": {"domain": [0, 50], "nice": false},
          "axis": {"orient": "left", "values": [0, 10, 20, 30, 40, 50], "tickSize": 18, "offset": -9, "labelAlign": "center", "labelPadding": 29, "title": "Bitrate (Mbps)", "titlePadding": 17}
        }
      }
    },
    {
      "mark": {"type": "line", "opacity": 0},
      "encoding": {
        "x": {
          "field": "time", "type": "quantitative",
          "scale": {"domain": [0, 81.5], "nice": false, "zero": false},
          "axis": {"orient": "bottom", "values": [0, 2, 4, 6, 8, 10, 12, 14, 16, 18, 20, 22, 24, 26, 28, 30, 32, 34, 36, 38, 40, 42, 44, 46, 48, 50, 52, 54, 56, 58, 60, 62, 64, 66, 68, 70, 72, 74, 76, 78, 80], "tickSize": 4, "labels": false, "title": null}
        },
        "y": {
          "field": "mbps", "type": "quantitative",
          "scale": {"domain": [0, 50], "nice": false},
          "axis": {"orient": "left", "values": [0, 2, 4, 6, 8, 10, 12, 14, 16, 18, 20, 22, 24, 26, 28, 30, 32, 34, 36, 38, 40, 42, 44, 46, 48, 50], "tickSize": 8, "offset": -4, "labels": false, "title": null}
        }
      }
    },
    {
      "mark": {"type": "line", "opacity": 0},
      "encoding": {
        "x": {
          "field": "time", "type": "quantitative",
          "scale": {"domain": [0, 81.5], "nice": false, "zero": false},
          "axis": {"orient": "top", "values": [0, 10, 20, 30, 40, 50, 60, 70, 80], "tickSize": 9, "offset": -9, "labels": false, "title": null}
        },
        "y": {
          "field": "mbps", "type": "quantitative",
          "scale": {"domain": [0, 50], "nice": false},
          "axis": {"orient": "right", "values": [0, 10, 20, 30, 40, 50], "tickSize": 18, "offset": -9, "labelAlign": "center", "labelPadding": 28, "title": null}
        }
      }
    },
    {
      "mark": {"type": "line", "opacity": 0},
      "encoding": {
        "x": {
          "field": "time", "type": "quantitative",
          "scale": {"domain": [0, 81.5], "nice": false, "zero": false},
          "axis": {"orient": "top", "values": [0, 2, 4, 6, 8, 10, 12, 14, 16, 18, 20, 22, 24, 26, 28, 30, 32, 34, 36, 38, 40, 42, 44, 46, 48, 50, 52, 54, 56, 58, 60, 62, 64, 66, 68, 70, 72, 74, 76, 78, 80], "tickSize": 4, "offset": -4, "labels": false, "title": null}
        },
        "y": {
          "field": "mbps", "type": "quantitative",
          "scale": {"domain": [0, 50], "nice": false},
          "axis": {"orient": "right", "values": [0, 2, 4, 6, 8, 10, 12, 14, 16, 18, 20, 22, 24, 26, 28, 30, 32, 34, 36, 38, 40, 42, 44, 46, 48, 50], "tickSize": 5, "offset": -5, "labels": false, "title": null}
        }
      }
    }
  ],
  "resolve": {"scale": {"x": "independent", "y": "independent"}}
}
